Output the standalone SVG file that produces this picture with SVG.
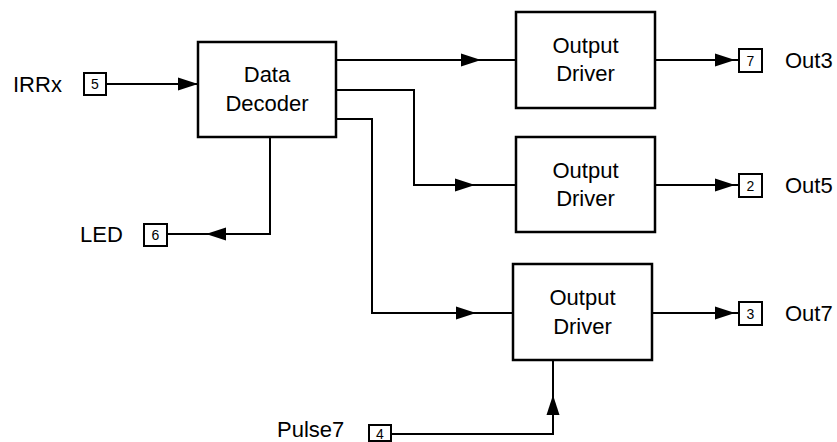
<svg xmlns="http://www.w3.org/2000/svg" xmlns:xlink="http://www.w3.org/1999/xlink" width="837" height="442" viewBox="0 0 837 442">
<style>
.blk{fill:#fff;stroke:#000;stroke-width:2.5}
.pin{fill:#fff;stroke:#000;stroke-width:2}
.wire{fill:none;stroke:#000;stroke-width:2}
.t{font-family:"Liberation Sans",Arial,sans-serif;font-size:22px;fill:#000}
.c{text-anchor:middle}
.n{font-family:"Liberation Sans",Arial,sans-serif;font-size:14px;fill:#000;text-anchor:middle}
</style>
<defs>
<path id="ah" d="M0,0 L-20,-6.5 L-20,6.5 Z" fill="#000"/>
</defs>
<g id="connectors">
<path class="wire" d="M106,84 H198"/>
<path class="wire" d="M336,60 H516"/>
<path class="wire" d="M336,90 H414 V185 H516"/>
<path class="wire" d="M336,119 H372 V313 H513"/>
<path class="wire" d="M270,137 V234 H168"/>
<path class="wire" d="M655,60 H738"/>
<path class="wire" d="M655,185 H738"/>
<path class="wire" d="M652,313 H738"/>
<path class="wire" d="M391,434 H553 V360"/>
<use xlink:href="#ah" transform="translate(198,84)"/>
<use xlink:href="#ah" transform="translate(481,60)"/>
<use xlink:href="#ah" transform="translate(475,185)"/>
<use xlink:href="#ah" transform="translate(476,313)"/>
<use xlink:href="#ah" transform="translate(735,60)"/>
<use xlink:href="#ah" transform="translate(735,185)"/>
<use xlink:href="#ah" transform="translate(735,313)"/>
<use xlink:href="#ah" transform="translate(206,234) rotate(180)"/>
<use xlink:href="#ah" transform="translate(553,395) rotate(-90)"/>
</g>
<g id="decoder">
<rect class="blk" x="198" y="42" width="138" height="95"/>
<text class="t c" x="267" y="82">Data</text>
<text class="t c" x="267" y="111">Decoder</text>
</g>
<g id="driver1">
<rect class="blk" x="516" y="12" width="139" height="96"/>
<text class="t c" x="585.5" y="53">Output</text>
<text class="t c" x="585.5" y="81">Driver</text>
</g>
<g id="driver2">
<rect class="blk" x="516" y="137" width="139" height="95"/>
<text class="t c" x="585.5" y="178">Output</text>
<text class="t c" x="585.5" y="206">Driver</text>
</g>
<g id="driver3">
<rect class="blk" x="513" y="264" width="139" height="96"/>
<text class="t c" x="582.5" y="305">Output</text>
<text class="t c" x="582.5" y="334">Driver</text>
</g>
<g id="pin5">
<rect class="pin" x="84" y="73" width="22" height="22"/>
<text class="n" x="95" y="89">5</text>
<text class="t" x="13" y="92">IRRx</text>
</g>
<g id="pin6">
<rect class="pin" x="144" y="224" width="23" height="22"/>
<text class="n" x="155.5" y="240">6</text>
<text class="t" x="80" y="242">LED</text>
</g>
<g id="pin7">
<rect class="pin" x="739" y="49" width="23" height="23"/>
<text class="n" x="750.5" y="65.5">7</text>
<text class="t" x="785" y="68">Out3</text>
</g>
<g id="pin2">
<rect class="pin" x="739" y="174" width="23" height="23"/>
<text class="n" x="750.5" y="190.5">2</text>
<text class="t" x="785" y="193">Out5</text>
</g>
<g id="pin3">
<rect class="pin" x="739" y="302" width="23" height="23"/>
<text class="n" x="750.5" y="318.5">3</text>
<text class="t" x="785" y="321">Out7</text>
</g>
<g id="pin4">
<rect class="pin" x="369" y="425" width="22" height="16"/>
<text class="n" x="380" y="439">4</text>
<text class="t" x="277" y="437">Pulse7</text>
</g>
</svg>
